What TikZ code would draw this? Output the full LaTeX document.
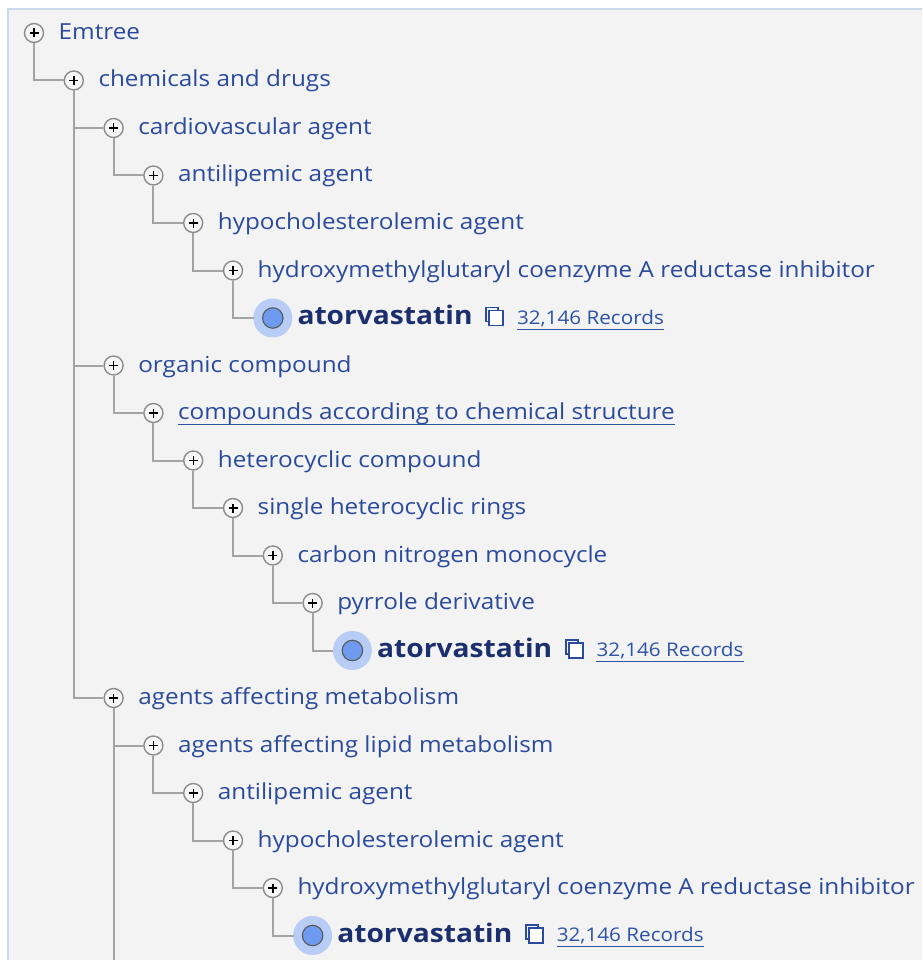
\documentclass[tikz,border=0pt]{standalone}
\usepackage{fontspec}
\setmainfont[FakeStretch=1.1]{Open Sans}
\definecolor{bgc}{HTML}{F3F3F3}
\definecolor{framec}{HTML}{C9D9F1}
\definecolor{txtc}{HTML}{2A4A9C}
\definecolor{boldc}{HTML}{1B2F6E}
\definecolor{linkc}{HTML}{2C53A6}
\definecolor{linec}{HTML}{A3A3A3}
\definecolor{haloc}{HTML}{B7CDF5}
\definecolor{dotc}{HTML}{6E9BEF}
\tikzset{
  plusicon/.style={circle, draw=black!45, line width=1.4pt, fill=white!97!black, minimum size=19pt, inner sep=0pt,
    path picture={\draw[black, line width=1.4pt] ([xshift=-4.5pt]path picture bounding box.center) -- ([xshift=4.5pt]path picture bounding box.center);
                  \draw[black, line width=1.4pt] ([yshift=-4.5pt]path picture bounding box.center) -- ([yshift=4.5pt]path picture bounding box.center);}},
  leaficon/.style={circle, draw=black!65, line width=1.1pt, fill=dotc, minimum size=20.5pt, inner sep=0pt},
  lbl/.style={anchor=base west, inner sep=0pt, text=txtc, font=\fontsize{22.1}{26}\selectfont},
  boldlbl/.style={anchor=base west, inner sep=0pt, text=boldc, font=\fontsize{25.6}{30}\selectfont\bfseries},
  reclbl/.style={anchor=base west, inner sep=0pt, text=linkc, font=\fontsize{18.8}{22}\selectfont},
  conn/.style={draw=linec, line width=2pt},
  uline/.style={draw=linkc, line width=1.4pt},
  copyback/.style={draw=txtc, line width=1.8pt},
  copyfront/.style={draw=txtc, fill=white, line width=1.8pt},
}
\begin{document}
\begin{tikzpicture}[x=1pt, y=-1pt]
\useasboundingbox (0,0) rectangle (922,960);
\fill[white] (0,0) rectangle (922,960);
\fill[bgc] (8,9) rectangle (922,960);
\draw[framec, line width=1.5pt] (8,960) -- (8,9) -- (922,9);

% icons (row y = 33 + 47.5*i, level x = 34 + 39.8*L)
\node[plusicon] (i0) at (34,33) {};
\node[plusicon] (i1) at (73.8,80.5) {};
\node[plusicon] (i2) at (113.6,128) {};
\node[plusicon] (i3) at (153.4,175.5) {};
\node[plusicon] (i4) at (193.2,223) {};
\node[plusicon] (i5) at (233,270.5) {};
\fill[haloc] (272.8,318) circle (19.5);
\node[leaficon] (i6) at (272.8,318) {};
\node[plusicon] (i7) at (113.6,365.5) {};
\node[plusicon] (i8) at (153.4,413) {};
\node[plusicon] (i9) at (193.2,460.5) {};
\node[plusicon] (i10) at (233,508) {};
\node[plusicon] (i11) at (272.8,555.5) {};
\node[plusicon] (i12) at (312.6,603) {};
\fill[haloc] (352.4,650.5) circle (19.5);
\node[leaficon] (i13) at (352.4,650.5) {};
\node[plusicon] (i14) at (113.6,698) {};
\node[plusicon] (i15) at (153.4,745.5) {};
\node[plusicon] (i16) at (193.2,793) {};
\node[plusicon] (i17) at (233,840.5) {};
\node[plusicon] (i18) at (272.8,888) {};
\fill[haloc] (312.6,935.5) circle (19.5);
\node[leaficon] (i19) at (312.6,935.5) {};
\coordinate (bottom) at (113.6,962);

% connectors
\draw[conn] (i0.south) |- (i1.west);
\draw[conn] (i1.south) |- (i2.west);
\draw[conn] (i1.south) |- (i7.west);
\draw[conn] (i1.south) |- (i14.west);
\draw[conn] (i2.south) |- (i3.west);
\draw[conn] (i3.south) |- (i4.west);
\draw[conn] (i4.south) |- (i5.west);
\draw[conn] (i5.south) |- ([xshift=-19pt]i6.center);
\draw[conn] (i7.south) |- (i8.west);
\draw[conn] (i8.south) |- (i9.west);
\draw[conn] (i9.south) |- (i10.west);
\draw[conn] (i10.south) |- (i11.west);
\draw[conn] (i11.south) |- (i12.west);
\draw[conn] (i12.south) |- ([xshift=-19pt]i13.center);
\draw[conn] (i14.south) |- (i15.west);
\draw[conn] (i14.south) -- (bottom);
\draw[conn] (i15.south) |- (i16.west);
\draw[conn] (i16.south) |- (i17.west);
\draw[conn] (i17.south) |- (i18.west);
\draw[conn] (i18.south) |- ([xshift=-19pt]i19.center);

% labels
\node[lbl] (t0) at (58.5,39.5) {Emtree};
\node[lbl] (t1) at (98.3,87) {chemicals and drugs};
\node[lbl] (t2) at (138.1,134.5) {cardiovascular agent};
\node[lbl] (t3) at (177.9,182) {antilipemic agent};
\node[lbl] (t4) at (217.7,229.5) {hypocholesterolemic agent};
\node[lbl] (t5) at (257.5,277) {hydroxymethylglutaryl coenzyme A reductase inhibitor};
\node[boldlbl] (t6) at (297.3,324.5) {atorvastatin};
\node[lbl] (t7) at (138.1,372) {organic compound};
\node[lbl] (t8) at (177.9,419.5) {compounds according to chemical structure};
\draw[uline] ([yshift=-5pt]t8.base west) -- ([yshift=-5pt]t8.base east);
\node[lbl] (t9) at (217.7,467) {heterocyclic compound};
\node[lbl] (t10) at (257.5,514.5) {single heterocyclic rings};
\node[lbl] (t11) at (297.3,562) {carbon nitrogen monocycle};
\node[lbl] (t12) at (337.1,609.5) {pyrrole derivative};
\node[boldlbl] (t13) at (376.9,657) {atorvastatin};
\node[lbl] (t14) at (138.1,704.5) {agents affecting metabolism};
\node[lbl] (t15) at (177.9,752) {agents affecting lipid metabolism};
\node[lbl] (t16) at (217.7,799.5) {antilipemic agent};
\node[lbl] (t17) at (257.5,847) {hypocholesterolemic agent};
\node[lbl] (t18) at (297.3,894.5) {hydroxymethylglutaryl coenzyme A reductase inhibitor};
\node[boldlbl] (t19) at (337.1,942) {atorvastatin};

% copy icons and record links
\foreach \n/\cx/\cy in {6/272.8/318, 13/352.4/650.5, 19/312.6/935.5} {
  \draw[copyback] (\cx+213.5,\cy-10.5) rectangle (\cx+225.5,\cy+3.5);
  \draw[copyfront] (\cx+216.5,\cy-7.5) rectangle (\cx+230.5,\cy+7.5);
  \node[reclbl] (r\n) at (\cx+244,\cy+6.2) {32,146 Records};
  \draw[uline] ([yshift=-5pt]r\n.base west) -- ([yshift=-5pt]r\n.base east);
}
\end{tikzpicture}
\end{document}
